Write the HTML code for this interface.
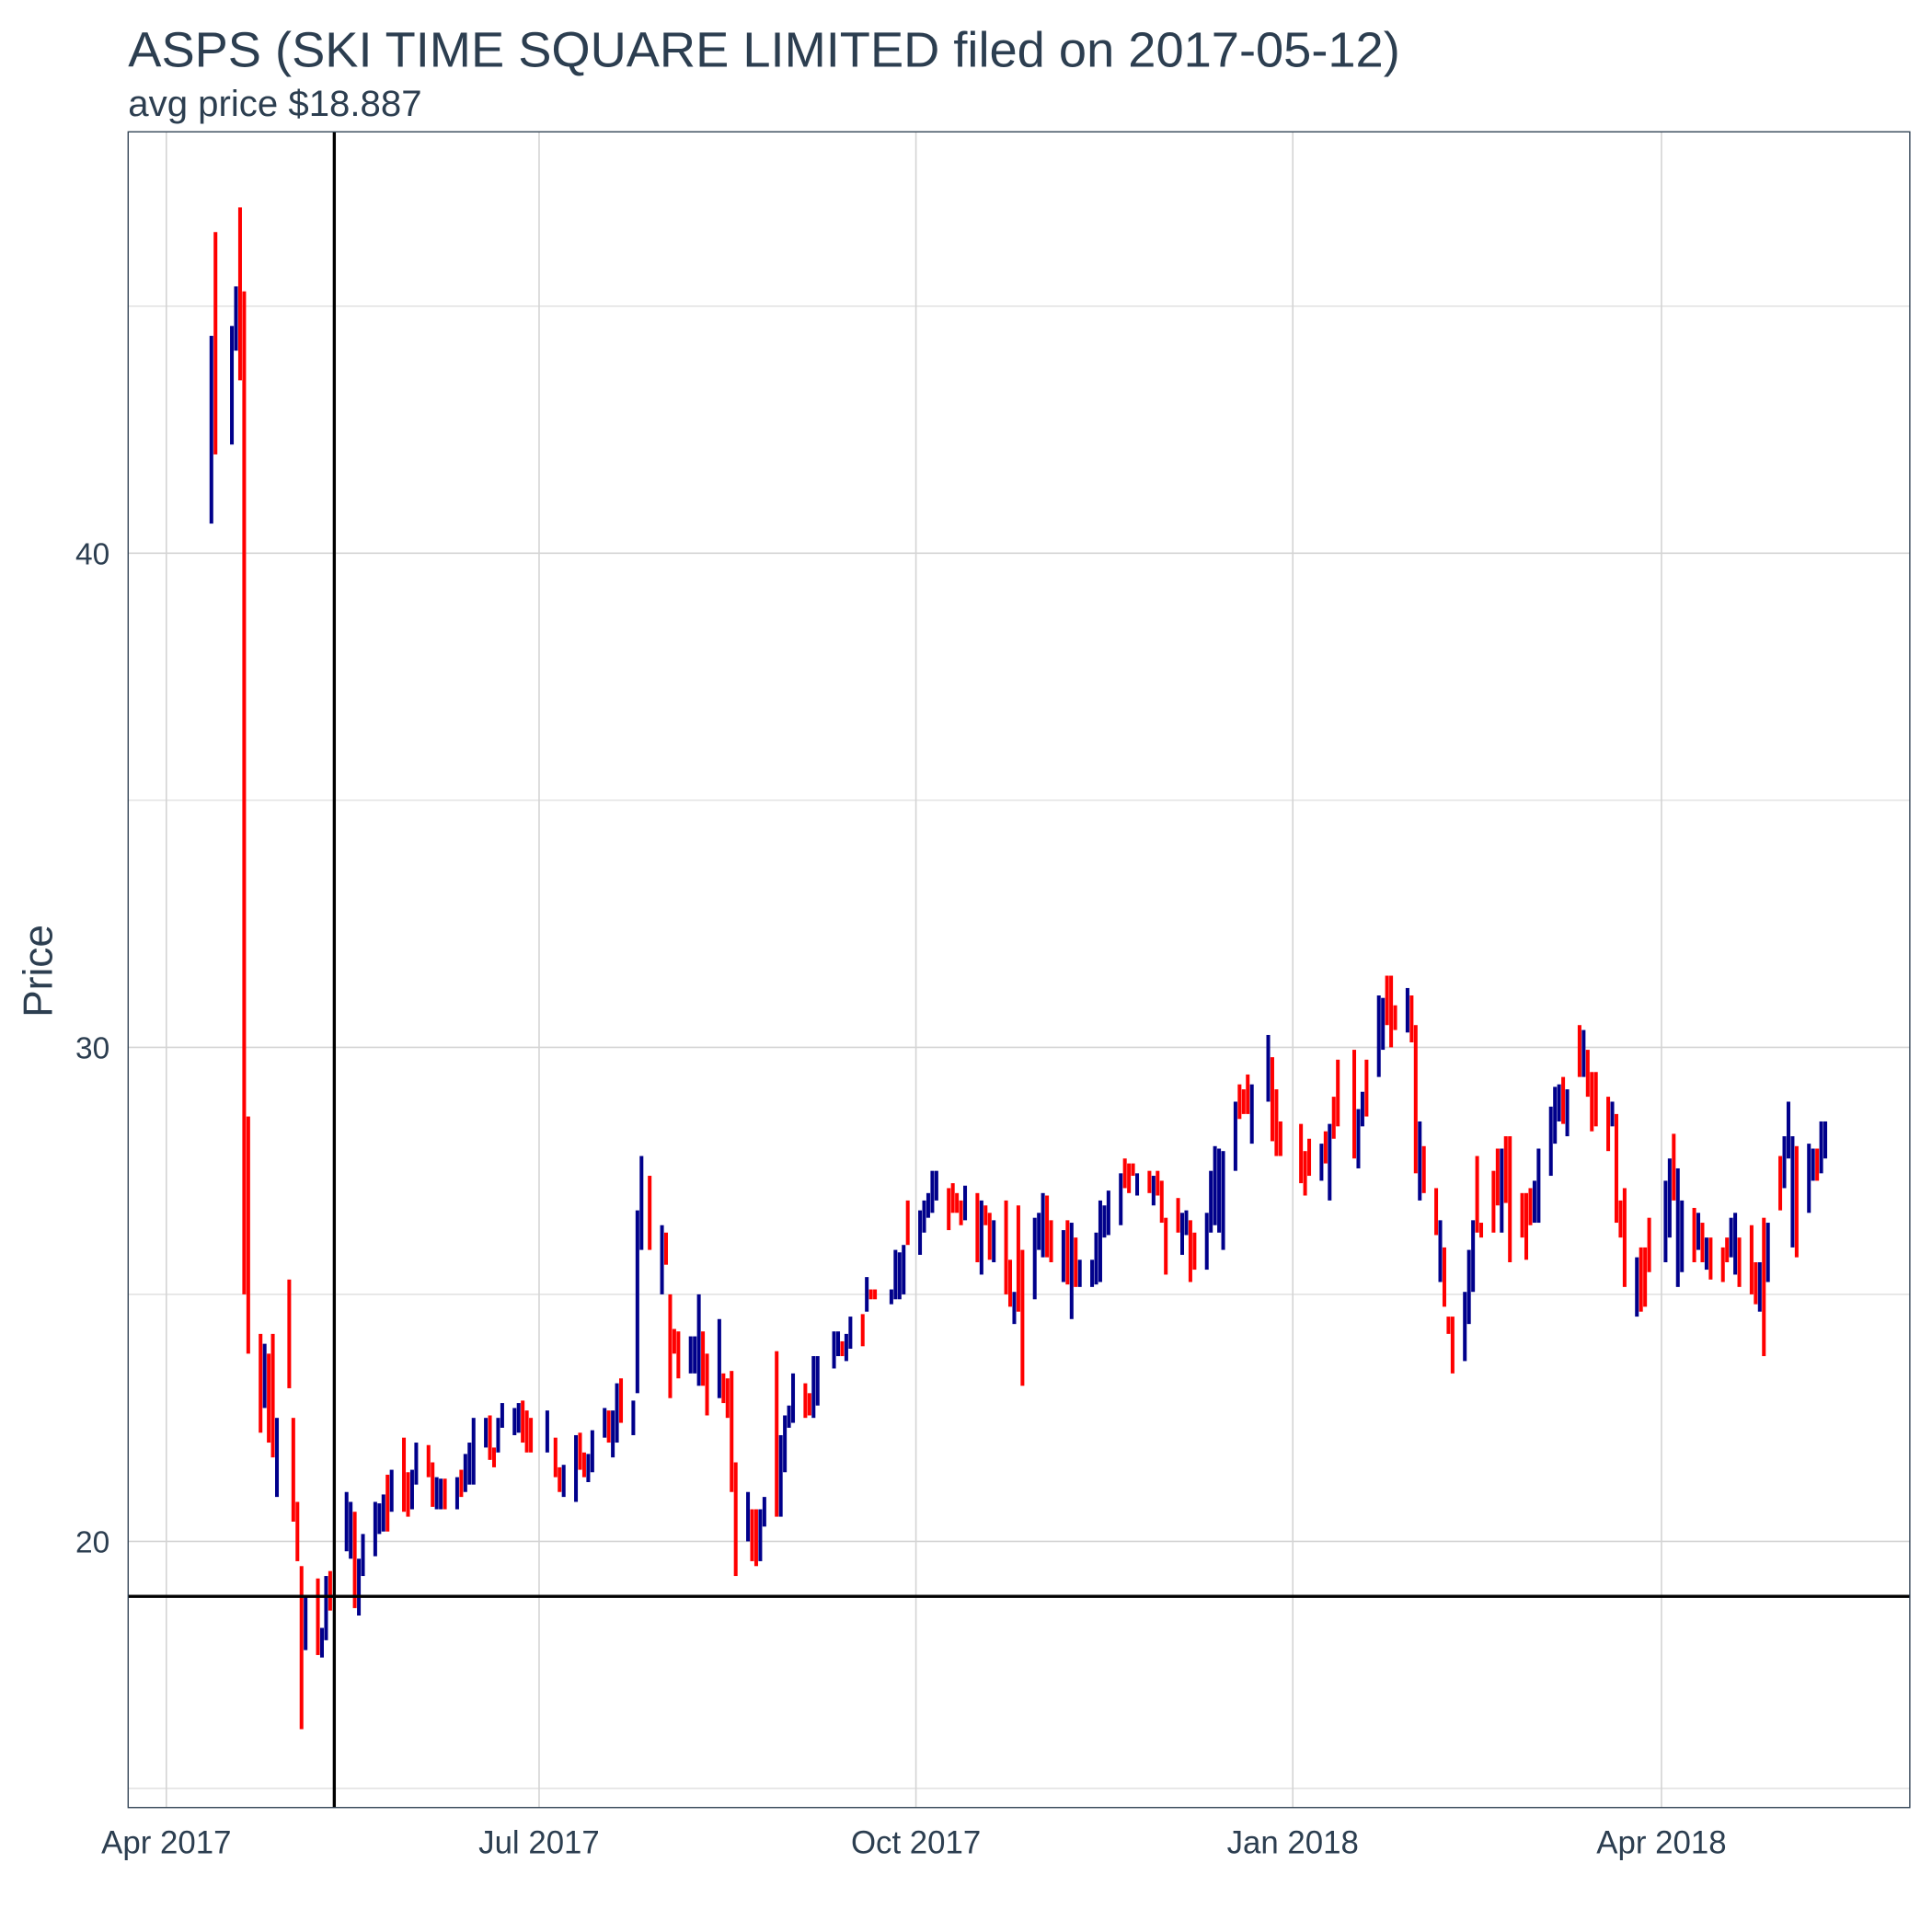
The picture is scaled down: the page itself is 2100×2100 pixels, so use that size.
<!DOCTYPE html>
<html><head><meta charset="utf-8"><style>
html,body{margin:0;padding:0;background:#fff;}
svg{display:block;font-family:"Liberation Sans",sans-serif;}
</style></head><body>
<svg id="chart" width="2100" height="2100" viewBox="0 0 1568 1568" xmlns="http://www.w3.org/2000/svg">
<rect x="0" y="0" width="1568" height="1568" fill="#fff"/>
<text x="104" y="54" font-size="40.5" fill="#2c3e50">ASPS (SKI TIME SQUARE LIMITED filed on 2017-05-12)</text>
<text x="104" y="94" font-size="30" fill="#2c3e50">avg price $18.887</text>
<g id="grid"></g>
<g id="bars"></g>
<g id="refs"></g>
<rect x="104" y="107" width="1446" height="1360" fill="none" stroke="#2c3e50" stroke-width="1"/>
<g id="axes"></g>
<text x="0" y="0" transform="translate(42,788) rotate(-90)" text-anchor="middle" font-size="33" fill="#2c3e50">Price</text>
</svg>
<script>
const dayIdx=[11,12,16,17,18,19,20,23,24,25,26,27,30,31,32,33,34,37,38,39,40,44,45,46,47,48,51,52,53,54,55,58,59,60,61,64,65,66,67,68,71,72,73,74,75,78,79,80,81,82,85,86,87,88,89,93,95,96,97,100,101,102,103,104,107,108,109,110,111,114,115,116,118,121,122,123,124,125,128,129,130,131,132,135,136,137,138,139,142,143,144,145,146,149,150,151,152,153,156,157,158,159,163,164,165,166,167,170,171,172,173,177,178,179,180,181,184,185,186,187,188,191,192,193,194,195,198,199,200,201,202,205,206,207,208,209,212,213,214,215,216,219,220,221,222,223,226,227,228,229,230,233,234,235,236,237,240,241,242,243,244,247,248,249,250,251,254,255,256,257,258,261,262,263,264,265,269,270,271,272,277,278,279,282,283,284,285,286,290,291,292,293,296,297,298,299,300,303,304,305,306,307,310,311,312,313,314,317,318,319,320,321,324,325,326,327,328,331,332,333,334,335,338,339,340,341,342,345,346,347,348,349,352,353,354,355,356,359,360,361,362,366,367,368,369,370,373,374,375,376,377,380,381,382,383,384,387,388,389,390,391,394,395,396,397,398,401,402,403,404,405];
const highs=[44.4,46.5,44.6,45.4,47.0,45.3,28.6,24.2,24.0,23.8,24.2,22.5,25.3,22.5,20.8,19.5,18.9,19.25,18.25,19.3,19.4,21.0,20.8,20.6,19.65,20.15,20.8,20.77,20.95,21.35,21.45,22.1,21.4,21.45,22.0,21.95,21.6,21.3,21.27,21.27,21.3,21.45,21.77,22.0,22.5,22.5,22.55,21.9,22.5,22.8,22.7,22.8,22.85,22.65,22.5,22.65,22.1,21.5,21.55,22.15,22.2,21.8,21.77,22.25,22.7,22.65,22.65,23.2,23.3,22.85,26.7,27.8,27.4,26.4,26.25,25.0,24.3,24.25,24.15,24.15,25.0,24.25,23.8,24.5,23.4,23.3,23.45,21.6,21.0,20.65,20.65,20.65,20.9,23.85,22.15,22.55,22.75,23.4,23.2,23.0,23.75,23.75,24.25,24.25,24.05,24.2,24.55,24.6,25.35,25.1,25.1,25.1,25.9,25.85,26.0,26.9,26.7,26.9,27.05,27.5,27.5,27.15,27.25,27.05,26.9,27.2,27.05,26.9,26.8,26.65,26.5,26.9,25.7,25.05,26.8,25.9,26.55,26.65,27.05,27.0,26.5,26.3,26.5,26.45,26.15,25.7,25.7,26.25,26.9,26.8,27.1,27.45,27.75,27.65,27.65,27.45,27.5,27.4,27.5,27.3,26.55,26.95,26.65,26.7,26.5,26.25,26.65,27.5,28.0,27.95,27.9,28.9,29.25,29.15,29.45,29.25,30.25,29.8,29.15,28.5,28.45,27.9,28.15,28.05,28.3,28.45,29.0,29.75,29.95,28.75,29.1,29.75,31.05,31.0,31.45,31.45,30.85,31.2,31.05,30.45,28.5,28.0,27.15,26.5,25.95,24.55,24.55,25.05,25.9,26.5,27.8,26.45,27.5,27.95,27.95,28.2,28.2,27.05,27.05,27.15,27.3,27.95,28.8,29.2,29.25,29.4,29.15,30.45,30.35,29.95,29.5,29.5,29.0,28.9,28.65,26.9,27.15,25.75,25.95,25.95,26.55,27.3,27.75,28.25,27.55,26.9,26.75,26.65,26.45,26.15,26.15,25.95,26.15,26.55,26.65,26.15,26.4,25.65,25.65,26.55,26.45,27.8,28.2,28.9,28.2,28.0,28.05,27.95,27.95,28.5,28.5];
const lows=[40.6,42.0,42.2,44.1,43.5,25.0,23.8,22.2,22.7,22.0,21.7,20.9,23.1,20.4,19.6,16.2,17.8,17.7,17.65,18.0,18.6,19.8,19.65,18.65,18.5,19.3,19.7,20.15,20.2,20.2,20.6,20.6,20.5,20.65,21.15,21.3,20.7,20.65,20.65,20.65,20.65,20.9,21.0,21.15,21.15,21.9,21.65,21.5,21.8,22.3,22.15,22.2,22.0,21.8,21.8,21.8,21.3,21.0,20.9,20.8,21.45,21.3,21.2,21.4,22.1,22.0,21.7,22.0,22.4,22.15,23.0,25.9,25.9,25.0,25.6,22.9,23.8,23.3,23.4,23.4,23.15,23.15,22.55,22.9,22.8,22.5,21.0,19.3,20.0,19.6,19.5,19.6,20.3,20.5,20.5,21.4,22.3,22.4,22.5,22.55,22.5,22.75,23.5,23.75,23.75,23.65,23.9,23.95,24.65,24.9,24.9,24.8,24.9,24.9,25.0,26.0,25.8,26.25,26.55,26.65,26.9,26.3,26.65,26.65,26.4,26.5,25.65,25.4,26.4,25.7,25.65,25.0,24.75,24.4,24.65,23.15,24.9,25.9,25.75,25.75,25.65,25.25,25.2,24.5,25.15,25.15,25.15,25.2,25.25,26.15,26.2,26.4,27.15,27.05,27.4,27.0,27.05,26.8,27.0,26.45,25.4,26.25,25.8,26.2,25.25,25.5,25.5,26.25,26.4,26.25,25.9,27.5,28.55,28.65,28.65,28.05,28.9,28.1,27.8,27.8,27.25,27.0,27.4,27.3,27.65,26.9,28.15,28.4,27.75,27.55,28.4,28.6,29.4,29.95,30.45,30.0,30.35,30.3,30.1,27.45,26.9,27.05,26.2,25.25,24.75,24.2,23.4,23.65,24.4,25.05,26.25,26.15,26.25,26.8,26.25,26.85,25.65,26.15,25.7,26.4,26.45,26.45,27.4,28.05,28.5,28.45,28.2,29.4,29.4,29.0,28.3,28.4,27.9,28.4,26.45,26.15,25.15,24.55,24.65,24.75,25.45,25.65,26.15,26.9,25.15,25.45,25.65,25.9,25.65,25.5,25.3,25.25,25.65,25.75,25.4,25.15,25.0,24.8,24.65,23.75,25.25,26.7,27.15,27.75,25.95,25.75,26.65,27.3,27.3,27.45,27.75];
const upDay=[1,0,1,1,0,0,0,0,1,0,0,1,0,0,0,0,1,0,1,1,0,1,1,0,1,1,1,1,1,0,1,0,0,1,1,0,0,1,1,0,1,0,1,1,1,1,0,0,1,1,1,1,0,0,0,1,0,0,1,1,0,0,1,1,1,0,1,1,0,1,1,1,0,1,0,0,0,0,1,1,1,0,0,1,0,0,0,0,1,0,0,1,1,0,1,1,1,1,0,0,1,1,1,1,0,1,1,0,1,0,0,1,1,1,1,0,1,1,1,1,1,0,0,0,0,1,0,1,0,0,1,0,0,1,0,0,1,1,1,0,0,1,0,1,0,1,1,1,1,1,1,1,0,0,0,1,0,1,0,0,0,0,1,1,0,0,1,1,1,1,1,1,0,0,0,1,1,0,0,0,0,0,0,1,0,1,0,0,0,1,1,0,1,1,0,0,0,1,0,0,1,0,0,1,0,0,0,1,1,1,0,0,0,0,1,0,0,0,0,0,1,1,1,1,1,0,1,0,1,0,0,0,0,1,0,0,0,1,0,0,0,1,1,0,1,1,0,1,0,1,0,0,0,1,1,0,0,0,1,0,1,0,1,1,1,0,1,1,0,1,1,0];
const yTicks=[20,30,40];
const yMinor=[15,25,35,45];
const xTickDays=[0,91,183,275,365];
const xTickLabels=["Apr 2017","Jul 2017","Oct 2017","Jan 2018","Apr 2018"];
const filedDay=41;
const avgPrice=18.887;

const NS="http://www.w3.org/2000/svg";
function xS(d){return 135+d*3.3245;}
function yS(v){return 1251-(v-20)*40.1;}
function mk(tag,attrs,parent){const e=document.createElementNS(NS,tag);for(const k in attrs)e.setAttribute(k,attrs[k]);parent.appendChild(e);return e;}
const grid=document.getElementById('grid'),bars=document.getElementById('bars'),refs=document.getElementById('refs'),axes=document.getElementById('axes');
yMinor.forEach(v=>{const l=mk('line',{x1:104,x2:1550,y1:yS(v),y2:yS(v),stroke:'#dedede','stroke-width':1},grid);

});
yTicks.forEach(v=>{const l=mk('line',{x1:104,x2:1550,y1:yS(v),y2:yS(v),stroke:'#d4d4d4','stroke-width':1.2},grid);


const t=mk('text',{x:89,y:yS(v)+9,'text-anchor':'end','font-size':25,fill:'#2c3e50'},axes);t.textContent=v;

});
xTickDays.forEach((d,i)=>{const l=mk('line',{x1:xS(d),x2:xS(d),y1:107,y2:1467,stroke:'#d4d4d4','stroke-width':1.2},grid);


const t=mk('text',{x:xS(d),y:1504,'text-anchor':'middle','font-size':26,fill:'#2c3e50'},axes);t.textContent=xTickLabels[i];

});
dayIdx.forEach((d,i)=>{const y1=yS(highs[i]),y2=yS(lows[i]);
const r=mk('rect',{x:xS(d)-1.5,y:y1,width:3,height:Math.max(1,y2-y1),fill:upDay[i]?'#00008b':'#ff0000'},bars);

});
const vl=mk('line',{x1:xS(filedDay),x2:xS(filedDay),y1:107,y2:1467,stroke:'#000','stroke-width':2.5},refs);


const hl=mk('line',{x1:104,x2:1550,y1:yS(avgPrice),y2:yS(avgPrice),stroke:'#000','stroke-width':2.5},refs);


</script>
</body></html>
